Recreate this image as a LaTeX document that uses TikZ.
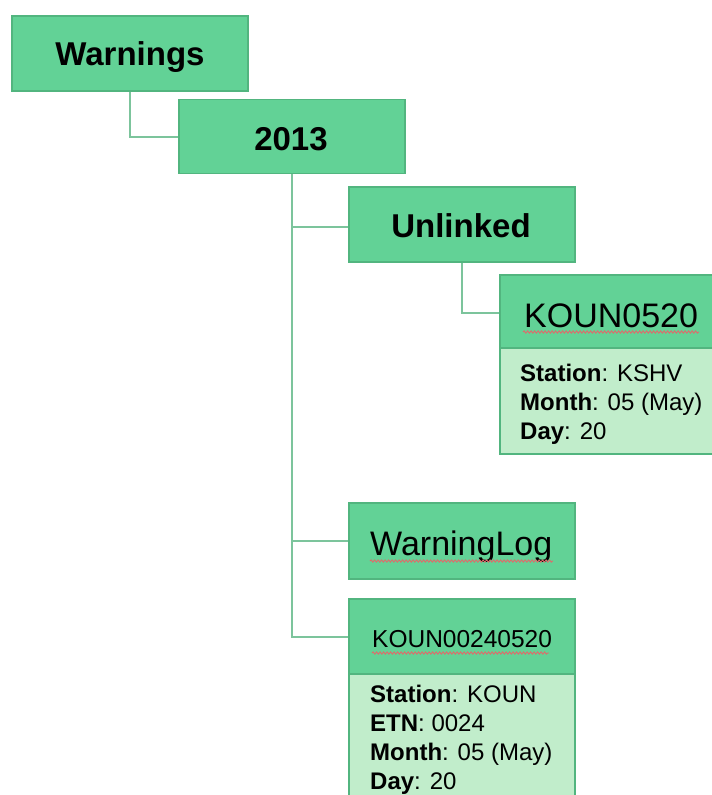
\documentclass[tikz,border=0pt]{standalone}
\usepackage{fontspec}
\setmainfont{Liberation Sans}
\usetikzlibrary{decorations.pathmorphing}
\definecolor{hdr}{HTML}{62D296}
\definecolor{bodyg}{HTML}{C1EDCB}
\definecolor{edgeg}{HTML}{52B57F}
\definecolor{conn}{HTML}{7CC49C}
\definecolor{squigc}{HTML}{E06A6A}
\begin{document}
\begin{tikzpicture}[x=1pt,y=-1pt,
  hbox/.style={draw=edgeg, line width=1.2pt, fill=hdr, rectangle, inner sep=0pt, minimum width=226pt},
  bbox/.style={draw=edgeg, line width=1.2pt, fill=bodyg, rectangle, inner sep=0pt, minimum width=226pt},
  titletext/.style={font=\bfseries\fontsize{33}{40}\selectfont, anchor=base, inner sep=0pt},
  nametext/.style={font=\fontsize{34}{40}\selectfont, anchor=base west, inner sep=0pt},
  infotext/.style={font=\fontsize{24}{29}\selectfont, anchor=north west, align=left, inner sep=0pt},
  link/.style={draw=conn, line width=2pt},
  squig/.style={draw=squigc, line width=0.9pt, decorate, decoration={snake, amplitude=1.1pt, segment length=3.5pt}}
]
\useasboundingbox (0,0) rectangle (712,795);
\clip (0,0) rectangle (712,795);
\fill[white] (0,0) rectangle (712,795);

% boxes
\node[hbox, minimum width=236pt, minimum height=75pt] (W) at (130,53.5) {};
\node[hbox, minimum height=74pt] (Y) at (292,136.5) {};
\node[hbox, minimum height=75pt] (U) at (462,224.5) {};
\node[bbox, minimum height=106pt] (K1b) at (613,401) {};
\node[hbox, minimum height=73pt] (K1) at (613,311.5) {};
\node[hbox, minimum height=76pt] (WL) at (462,541) {};
\node[bbox, minimum height=141pt] (K2b) at (462,744.5) {};
\node[hbox, minimum height=75pt] (K2) at (462,636.5) {};

% connectors
\draw[link] (W.south) |- (Y.west);
\draw[link] (Y.south) |- (K2.west);
\draw[link] ([yshift=-2pt]Y.south |- U.west) -- ([yshift=-2pt]U.west);
\draw[link] (Y.south |- WL.west) -- (WL.west);
\draw[link] (U.south) |- ([yshift=-1.5pt]K1.west);

% texts
\node[titletext] (tW) at (130,65) {Warnings};
\node[titletext] (tY) at (291,150) {2013};
\node[titletext] (tU) at (461,237) {Unlinked};
\node[nametext] (tK1) at (524,327) {KOUN0520};
\node[nametext] (tWL) at (370,555) {WarningLog};
\node[nametext, font=\fontsize{24.5}{30}\selectfont] (tK2) at (372,647) {KOUN00240520};
\node[infotext] (iK1) at (520,364) {\textbf{Station}: KSHV\\\textbf{Month}: 05 (May)\\\textbf{Day}: 20};
\node[infotext] (iK2) at (370,684.5) {\textbf{Station}: KOUN\\\textbf{ETN}: 0024\\\textbf{Month}: 05 (May)\\\textbf{Day}: 20};

% spell-check squiggles
\draw[squig] (523,332) -- (699,332);
\draw[squig] (370,561) -- (553,561);
\draw[squig] (372,653) -- (549,653);
\end{tikzpicture}
\end{document}
